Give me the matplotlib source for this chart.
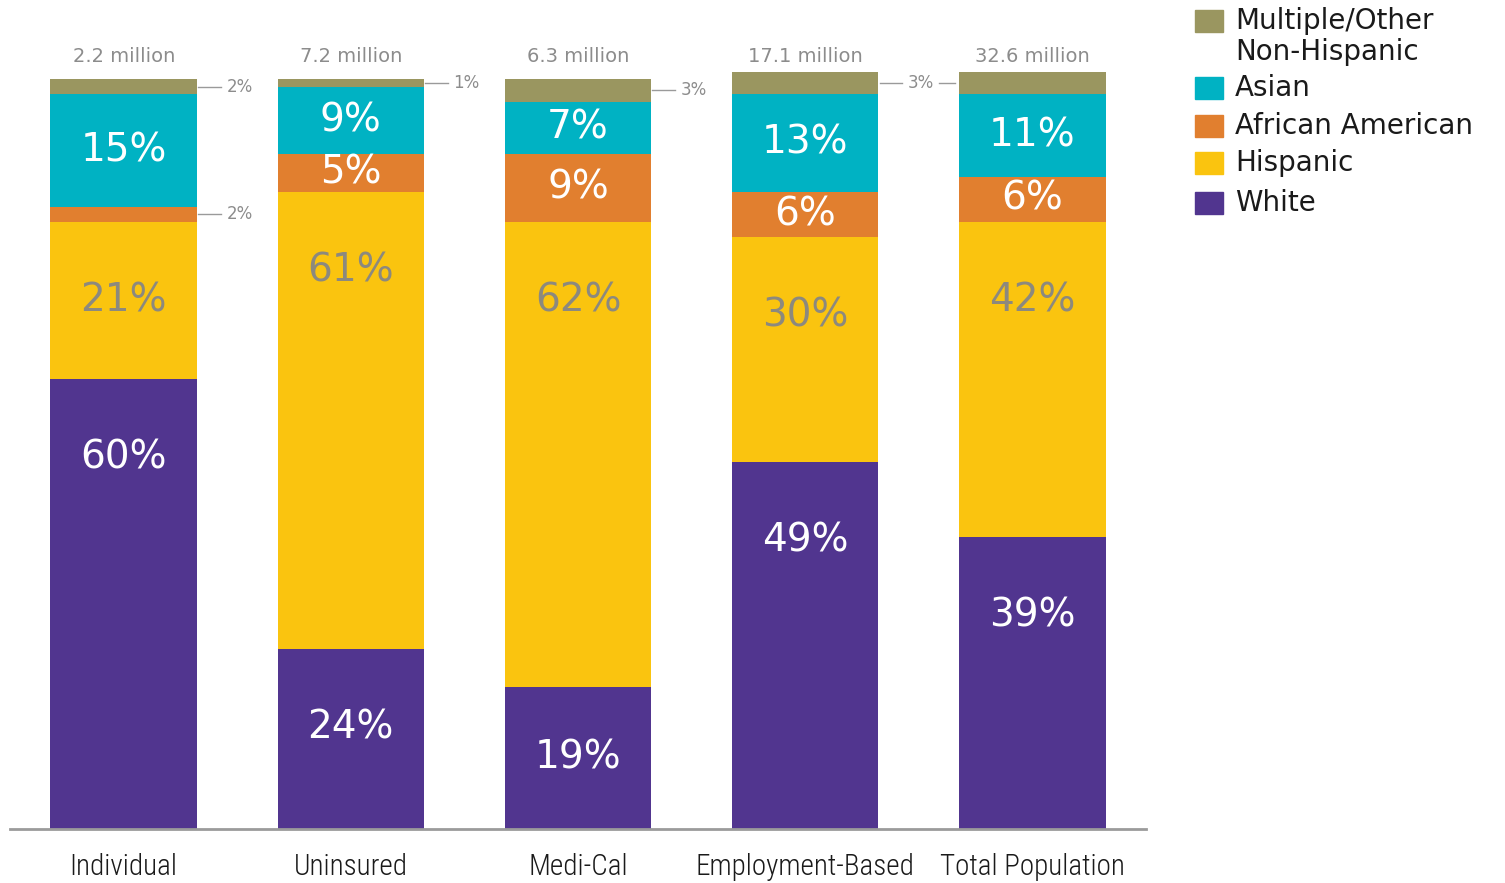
import matplotlib
matplotlib.use("Agg")
import matplotlib.pyplot as plt
from matplotlib.patches import Rectangle
from matplotlib import font_manager
import numpy as np

# Coverage groups and their sizes
categories = ["Individual", "Uninsured", "Medi-Cal", "Employment-Based", "Total Population"]
totals = ["2.2 million", "7.2 million", "6.3 million", "17.1 million", "32.6 million"]

# Race/ethnicity shares (percent), stacked bottom to top
white = [60, 24, 19, 49, 39]
hispanic = [21, 61, 62, 30, 42]
african_american = [2, 5, 9, 6, 6]
asian = [15, 9, 7, 13, 11]
other = [2, 1, 3, 3, 3]

series_names = ["White", "Hispanic", "African American", "Asian", "Multiple/Other\nNon-Hispanic"]
series = [white, hispanic, african_american, asian, other]
colors = ["#51358F", "#FAC40F", "#E17F2F", "#00B2C3", "#9A9660"]
label_colors = ["white", "#8C897E", "white", "white", "white"]

# Pick a narrow face for the category names if one is available
installed = {(f.name, f.stretch) for f in font_manager.fontManager.ttflist}
names = {n for n, _ in installed}
cat_font = {"family": "DejaVu Sans", "size": 16}
for cand in ["Roboto Condensed", "Liberation Sans Narrow", "Open Sans Condensed",
             "Noto Sans Condensed", "DejaVu Sans Condensed"]:
    if cand in names:
        cat_font = {"family": cand, "size": 21, "weight": "light"}
        break
else:
    for n, st in installed:
        if n in ("Roboto", "Noto Sans", "Open Sans", "DejaVu Sans") and str(st) in ("condensed", "semi-condensed", "75", "87.5"):
            cat_font = {"family": n, "stretch": "condensed", "size": 20}
            break

W, H = 1505, 883
fig = plt.figure(figsize=(W / 100, H / 100), dpi=100)
fig.patch.set_facecolor("white")

ax = fig.add_axes([10 / W, (H - 829) / H, 1136 / W, 750 / H])
ax.set_xlim(-0.5, 4.5)
ax.set_ylim(0, 100)

x = np.arange(len(categories))
bar_w = 0.645
bottoms = np.zeros(len(categories))
geom = []
for vals, col in zip(series, colors):
    vals = np.array(vals, dtype=float)
    ax.bar(x, vals, bottom=bottoms, width=bar_w, color=col, linewidth=0, clip_on=False)
    geom.append((bottoms.copy(), vals))
    bottoms = bottoms + vals

big_font = {"family": "DejaVu Sans", "size": 28}
small_font = {"family": "DejaVu Sans", "size": 12}

# Segment labels: large segments get their label near the top, small ones centered
drop = 10.5
for si, (bots, vals) in enumerate(geom):
    for i in range(len(categories)):
        v = vals[i]
        b = bots[i]
        if v >= 5:
            y = max(b + v / 2, b + v - drop) if si <= 1 else b + v / 2
            ax.text(x[i], y, f"{int(v)}%", ha="center", va="center",
                    color=label_colors[si], **big_font)

# Callouts for thin segments
callouts = [(0, 4), (0, 2), (1, 4), (2, 4), (3, 4)]
for i, si in callouts:
    bots, vals = geom[si]
    y = bots[i] + vals[i] / 2
    x0 = x[i] + bar_w / 2 + 0.005
    x1 = x0 + 0.1
    ax.plot([x0, x1], [y, y], color="#9A9A9A", lw=1, clip_on=False)
    ax.text(x1 + 0.025, y, f"{int(vals[i])}%", ha="left", va="center",
            color="#8C8C8C", **small_font)
    if i == 3:
        ax.plot([x1 + 0.16, x[i + 1] - bar_w / 2 - 0.02], [y, y],
                color="#9A9A9A", lw=1, clip_on=False)

# Group sizes above the bars
for i, t in enumerate(totals):
    fig.text((124.5 + 227 * i) / W, 1 - 56 / H, t, ha="center", va="center",
             color="#8C8C8C", family="DejaVu Sans", size=14)

# Axis styling
for s in ["top", "right", "left"]:
    ax.spines[s].set_visible(False)
ax.spines["bottom"].set_color("#9B9B9B")
ax.spines["bottom"].set_linewidth(2)
ax.set_yticks([])
ax.set_xticks(x)
ax.set_xticklabels(categories, color="#1A1A1A", **cat_font)
ax.tick_params(axis="x", length=0, pad=17)

# Legend
legend_rows = [(21, "Multiple/Other\nNon-Hispanic", 4), (88, "Asian", 3),
               (126, "African American", 2), (163, "Hispanic", 1), (203, "White", 0)]
leg_font = {"family": "DejaVu Sans", "size": 20, "color": "#1A1A1A"}
for ypix, name, si in legend_rows:
    fig.patches.append(Rectangle((1195 / W, 1 - (ypix + 11) / H), 28 / W, 22 / H,
                                 transform=fig.transFigure, color=colors[si]))
    for k, line in enumerate(name.split("\n")):
        fig.text(1235 / W, 1 - (ypix + 31 * k) / H, line, ha="left", va="center", **leg_font)

fig.savefig("out.png", dpi=100, facecolor="white")
